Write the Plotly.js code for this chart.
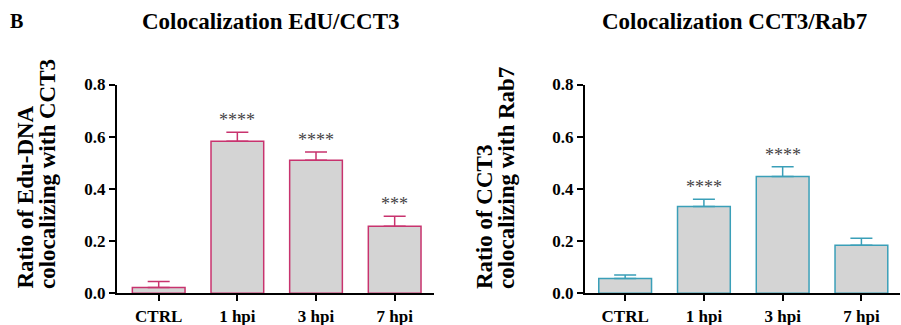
<!DOCTYPE html>
<html>
<head>
<meta charset="utf-8">
<script src="https://cdn.plot.ly/plotly-3.0.1.min.js"></script>
<style>html,body{margin:0;padding:0;background:#fff;}#chart{width:901px;height:325px;}</style>
</head>
<body>
<div id="chart"></div>
<script>
var categories = ["CTRL", "1 hpi", "3 hpi", "7 hpi"];
var eduValues = [0.022, 0.583, 0.510, 0.257];
var eduErrors = [0.023, 0.034, 0.031, 0.038];
var eduStars = ["", "****", "****", "***"];
var rabValues = [0.057, 0.333, 0.448, 0.184];
var rabErrors = [0.013, 0.027, 0.037, 0.027];
var rabStars = ["", "****", "****", ""];
var yTicks = [0, 0.2, 0.4, 0.6, 0.8];
var yTickLabels = ["0.0", "0.2", "0.4", "0.6", "0.8"];
var leftYTitle = ["Ratio of Edu-DNA", "colocalizing with CCT3"];
var rightYTitle = ["Ratio of CCT3", "colocalizing with Rab7"];

var serif = "Liberation Serif";
var leftColor = "#c8336e";
var rightColor = "#3a9fb8";
var fill = "#d4d4d4";

function barTrace(vals, errs, color, xa, ya) {
  return {
    type: "bar", x: categories, y: vals, xaxis: xa, yaxis: ya,
    width: 0.67,
    marker: {color: fill, line: {color: color, width: 1.5}},
    error_y: {type: "data", array: errs, arrayminus: errs.map(function(){return 0;}), symmetric: false,
              color: color, thickness: 1.5, width: 11},
    hoverinfo: "skip", showlegend: false
  };
}

var traces = [
  barTrace(eduValues, eduErrors, leftColor, "x", "y"),
  barTrace(rabValues, rabErrors, rightColor, "x2", "y2")
];

var annotations = [];
function addStars(stars, vals, errs, xref, yref) {
  for (var i = 0; i < categories.length; i++) {
    if (!stars[i]) continue;
    annotations.push({
      x: categories[i], y: vals[i] + errs[i], xref: xref, yref: yref,
      text: stars[i], showarrow: false, yanchor: "bottom", yshift: 0,
      font: {family: serif, size: 18, color: "#444"}
    });
  }
}
addStars(eduStars, eduValues, eduErrors, "x", "y");
addStars(rabStars, rabValues, rabErrors, "x2", "y2");

function addYTitle(lines, xs) {
  for (var i = 0; i < lines.length; i++) {
    annotations.push({x: xs[i] / 901, y: 1 - 291 / 325, xref: "paper", yref: "paper",
      xanchor: "center", yanchor: "bottom", textangle: -90,
      text: "<b>" + lines[i] + "</b>", showarrow: false,
      font: {family: serif, size: 23, color: "#000"}});
  }
}
addYTitle(leftYTitle, [25, 47]);
addYTitle(rightYTitle, [484, 506]);

annotations.push({x: 0.009, y: 0.935, xref: "paper", yref: "paper", xanchor: "left", yanchor: "middle",
  text: "<b>B</b>", showarrow: false, font: {family: serif, size: 20, color: "#000"}});
annotations.push({x: 270/901, y: 0.935, xref: "paper", yref: "paper", xanchor: "center", yanchor: "middle",
  text: "<b>Colocalization EdU/CCT3</b>", showarrow: false, font: {family: serif, size: 23, color: "#000"}});
annotations.push({x: 734/901, y: 0.935, xref: "paper", yref: "paper", xanchor: "center", yanchor: "middle",
  text: "<b>Colocalization CCT3/Rab7</b>", showarrow: false, font: {family: serif, size: 23, color: "#000"}});

function xAxis(domain, range, anchor) {
  return {domain: domain, range: range, anchor: anchor, type: "category",
    showline: true, linecolor: "#000", linewidth: 2, ticks: "outside", ticklen: 6, tickwidth: 2, tickcolor: "#000",
    showgrid: false, zeroline: false, fixedrange: true,
    tickfont: {family: serif, size: 17, color: "#000", weight: "bold"}};
}
function yAxis(anchor) {
  return {domain: [0.0975, 0.74], range: [0, 0.8], anchor: anchor,
    tickvals: yTicks, ticktext: yTickLabels,
    showline: true, linecolor: "#000", linewidth: 2, ticks: "outside", ticklen: 6, tickwidth: 2, tickcolor: "#000",
    showgrid: false, zeroline: false, fixedrange: true,
    tickfont: {family: serif, size: 17, color: "#000", weight: "bold"}};
}

var layout = {
  width: 901, height: 325,
  margin: {l: 0, r: 0, t: 0, b: 0},
  paper_bgcolor: "#fff", plot_bgcolor: "#fff",
  font: {family: serif},
  xaxis: xAxis([117/901, 434/901], [-0.53, 3.5], "y"),
  yaxis: yAxis("x"),
  xaxis2: xAxis([585/901, 900/901], [-0.51, 3.49], "y2"),
  yaxis2: yAxis("x2"),
  bargap: 0.33,
  annotations: annotations
};

Plotly.newPlot("chart", traces, layout, {displayModeBar: false, staticPlot: true});
</script>
</body>
</html>
